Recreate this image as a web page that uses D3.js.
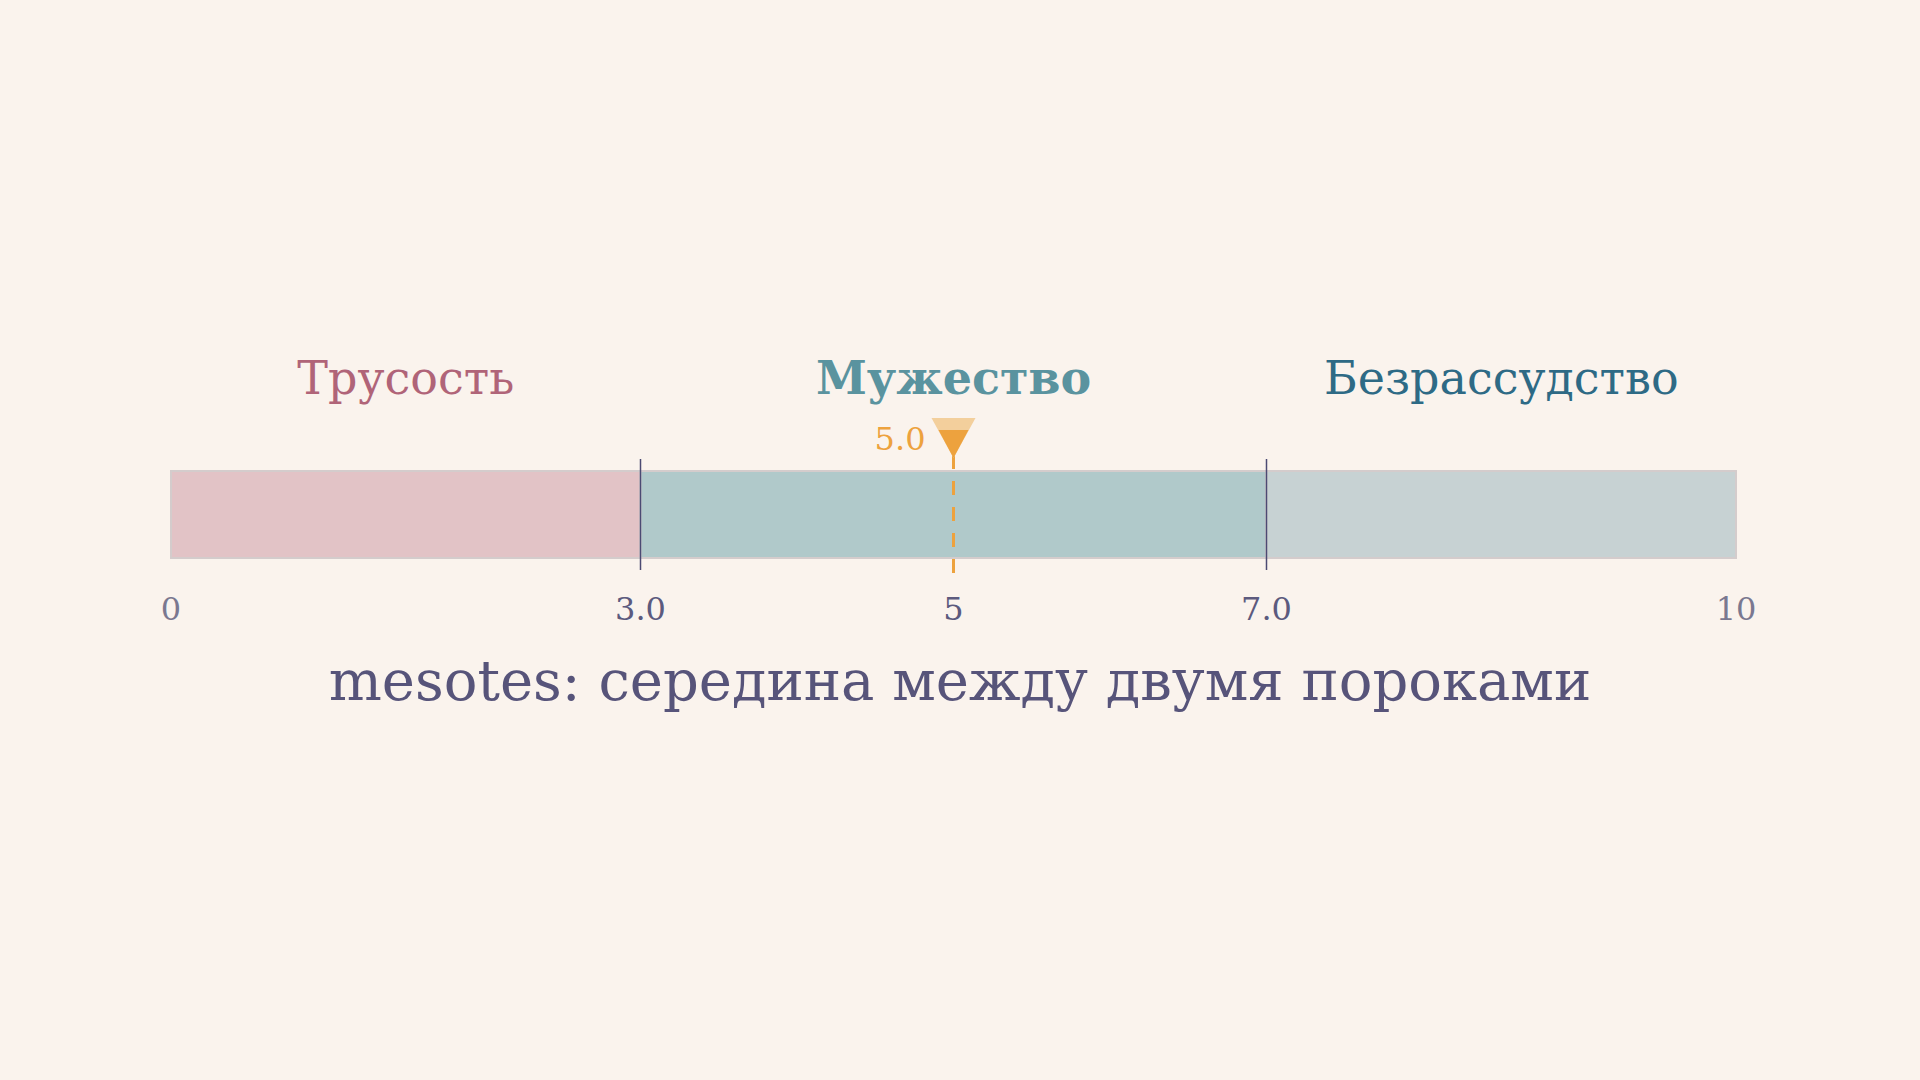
<!DOCTYPE html>
<html><head><meta charset="utf-8">
<script src="https://cdn.jsdelivr.net/npm/d3@7"></script>
<style>body{margin:0;background:#faf3ed;}</style></head>
<body><div id="root"></div>
<script>
const segments = [
  {name: 'Трусость', from: 0, to: 3.0},
  {name: 'Мужество', from: 3.0, to: 7.0},
  {name: 'Безрассудство', from: 7.0, to: 10}
];
const segColors = ['#e2c3c6', '#b0c9ca', '#c7d2d3'];
const labelColors = ['#b06478', '#5a939f', '#2e6a85'];
const tickValues = [0, 3.0, 5, 7.0, 10];
const tickLabels = ['0', '3.0', '5', '7.0', '10'];
const markerValue = 5.0;
const title = 'mesotes: середина между двумя пороками';

const W = 1920, H = 1080;
const font = '"DejaVu Serif", serif';

let svg = d3.select('#root').append('svg')
    .attr('width', W).attr('height', H)
    .style('background', '#faf3ed');

let x = d3.scaleLinear().domain([0, 10]).range([171, 1736]);
const barTop = 471, barH = 87;

svg.selectAll('rect.seg').data(segments).enter().append('rect')
    .attr('x', d => x(d.from)).attr('y', barTop)
    .attr('width', d => x(d.to) - x(d.from)).attr('height', barH)
    .attr('fill', (d, i) => segColors[i])
    .attr('stroke', '#d4cccc').attr('stroke-width', 2);

svg.selectAll('text.seg').data(segments).enter().append('text')
    .attr('x', d => x((d.from + d.to) / 2)).attr('y', 394)
    .attr('text-anchor', 'middle')
    .attr('font-family', font).attr('font-size', 46)
    .attr('font-weight', (d, i) => i === 1 ? 'bold' : 'normal')
    .attr('fill', (d, i) => labelColors[i])
    .text(d => d.name);

// boundaries
svg.selectAll('line.bound').data([3.0, 7.0]).enter().append('line')
    .attr('x1', d => x(d)).attr('x2', d => x(d))
    .attr('y1', 459).attr('y2', 570)
    .attr('stroke', '#4b4a73').attr('stroke-width', 1.5);

// ticks
svg.selectAll('text.tick').data(tickValues).enter().append('text')
    .attr('x', d => x(d)).attr('y', 620)
    .attr('text-anchor', 'middle')
    .attr('font-family', font).attr('font-size', 32)
    .attr('fill', (d, i) => (i === 0 || i === 4) ? '#7a7890' : '#5c5a7e')
    .text((d, i) => tickLabels[i]);

// marker
let mx = x(markerValue);
svg.append('line')
    .attr('x1', mx).attr('x2', mx).attr('y1', 455).attr('y2', 575)
    .attr('stroke', '#eda23e').attr('stroke-width', 3)
    .attr('stroke-dasharray', '14,12');
svg.append('path')
    .attr('d', `M${mx - 22},418 L${mx + 22},418 L${mx},458 Z`)
    .attr('fill', '#f3cf9c');
svg.append('path')
    .attr('d', `M${mx - 15},430 L${mx + 15},430 L${mx},458 Z`)
    .attr('fill', '#eda23e');
svg.append('text')
    .attr('x', mx - 28).attr('y', 450)
    .attr('text-anchor', 'end')
    .attr('font-family', font).attr('font-size', 32)
    .attr('fill', '#eda23e')
    .text(markerValue.toFixed(1));

svg.append('text')
    .attr('x', 960).attr('y', 700)
    .attr('text-anchor', 'middle')
    .attr('font-family', font).attr('font-size', 56)
    .attr('fill', '#57547a')
    .text(title);
</script></body></html>
